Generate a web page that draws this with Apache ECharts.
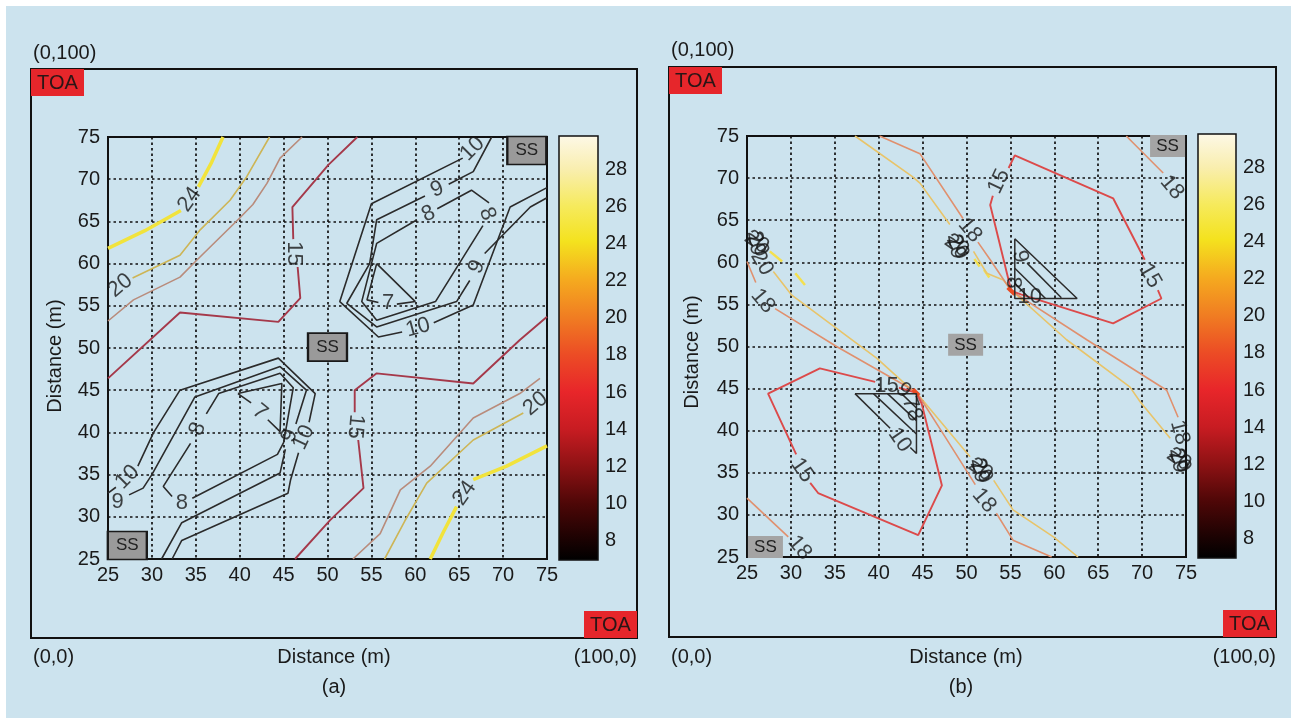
<!DOCTYPE html>
<html>
<head>
<meta charset="utf-8">
<script src="https://cdn.jsdelivr.net/npm/echarts@6/dist/echarts.min.js"></script>
<style>
html, body { margin: 0; background: #fff; }
#chart { width: 1297px; height: 719px; }
</style>
</head>
<body>
<div id="chart"></div>
<script>
var FONT = '"Liberation Sans", Arial, Helvetica, sans-serif';

// axes
var axisMin = 25;
var axisMax = 75;
var cbMin = 6.95;
var cbMax = 29.8;
var cbTicks = [8, 10, 12, 14, 16, 18, 20, 22, 24, 26, 28];

// ---- panel (a): contour segments [x, y] in metres, labels [x, y, text, angle]
var a7 = [
    [[55.6, 60.0], [60.0, 55.5], [57.9, 55.2]],
    [[55.8, 55.4], [54.5, 55.7], [55.6, 60.0]],
    [[39.8, 44.6], [41.3, 43.5]],
    [[43.2, 41.5], [44.6, 40.1], [44.8, 45.8], [39.8, 44.6]]
];
var a8 = [
    [[62.5, 66.5], [66.4, 68.7], [68.4, 67.2]],
    [[67.7, 64.5], [62.3, 55.5], [55.6, 53.3], [53.9, 55.5], [55.6, 62.4], [60.2, 65.2]],
    [[36.2, 42.2], [37.6, 44.6], [44.6, 47.0], [46.1, 45.3], [45.0, 38.8], [44.3, 37.4], [34.6, 32.2]],
    [[32.3, 32.4], [31.3, 33.6], [34.4, 38.7]]
];
var a9 = [
    [[68.7, 75], [66.6, 70.9], [63.8, 69.4]],
    [[61.1, 68.0], [55.6, 65.2], [54.8, 60.0], [52.2, 55.3], [55.6, 52.5], [64.7, 55.5], [66.2, 58.0]],
    [[67.9, 61.2], [73.1, 66.7], [75, 67.8]],
    [[27.4, 32.6], [29.0, 33.4], [30.0, 35.0], [34.9, 44.2], [44.6, 47.8], [47.6, 45.0], [46.4, 41.0]],
    [[45.2, 38.0], [44.6, 35.2], [33.4, 29.3], [31.1, 25]]
];
var a10 = [
    [[65.4, 72.5], [55.0, 67.1], [51.4, 55.5], [55.8, 51.3], [58.5, 51.9]],
    [[62.1, 53.0], [66.6, 55.1], [70.8, 66.7], [75, 69.0]],
    [[25, 32.8], [25.9, 33.5]],
    [[28.4, 36.0], [30.2, 40.0], [33.2, 45.0], [44.4, 48.8], [48.6, 44.6], [47.9, 41.2]],
    [[46.7, 37.6], [45.8, 34.4], [45.5, 32.8], [33.4, 27.2], [32.3, 25]]
];
var a15 = [
    [[25, 46.4], [33.2, 54.2], [44.4, 53.1], [46.9, 55.9], [46.6, 59.6]],
    [[46.1, 62.9], [46.0, 66.7], [50.1, 71.7], [53.4, 75]],
    [[75, 53.7], [71.9, 50.95], [66.6, 45.8], [55.6, 47.0], [53.1, 45.0], [53.1, 42.4]],
    [[53.5, 39.1], [54.1, 33.4], [50.3, 29.6], [46.3, 25]]
];
var a18 = [
    [[25, 53.2], [27.9, 55.7], [33.2, 58.4], [35.1, 60.4], [40.0, 65.4], [41.5, 67.0], [43.1, 69.5], [44.6, 72.5], [47.1, 75]],
    [[52.9, 25], [56.0, 28.0], [58.3, 33.2], [61.7, 36.0], [66.6, 41.7], [71.9, 44.6], [74.2, 46.4]]
];
var a20 = [
    [[27.8, 58.3], [33.2, 61.0], [35.5, 64.0], [38.9, 67.5], [40.8, 70.3], [43.4, 75]],
    [[56.5, 25], [58.8, 29.5], [61.3, 34.0], [66.6, 39.1], [72.3, 42.3]]
];
var a24 = [
    [[25, 61.8], [29.2, 63.9], [33.3, 66.3]],
    [[35.3, 69.1], [36.8, 72.0], [38.1, 75]],
    [[61.7, 25], [63.2, 28.2], [64.7, 31.2]],
    [[66.6, 34.4], [70.4, 36.0], [75, 38.4]]
];
var aLabels = [
    [56.9, 55.3, '7', 0], [42.3, 42.4, '7', -40],
    [61.5, 65.9, '8', 25], [68.2, 65.9, '8', -70], [35.2, 40.4, '8', 70], [33.4, 31.7, '8', 0],
    [62.5, 68.8, '9', 22], [67.0, 59.6, '9', 65], [26.1, 31.8, '9', 0], [45.7, 39.6, '9', 70],
    [66.5, 73.6, '10', 45], [60.3, 52.4, '10', 15], [27.2, 34.7, '10', 45], [47.3, 39.4, '10', 65],
    [46.2, 61.2, '15', -90], [53.2, 40.7, '15', -95],
    [26.4, 57.4, '20', 40], [73.7, 43.4, '20', 40],
    [34.3, 67.6, '24', 55], [65.6, 32.8, '24', 55]
];
var aSources = [[27.2, 26.6], [50.0, 50.1], [72.7, 73.4]];

// ---- panel (b)
var b7 = [
    [[42.6, 44.4], [44.3, 42.7]],
    [[55.5, 57.5], [57.2, 55.7]]
];
var b8 = [
    [[41.0, 44.4], [44.3, 41.2]],
    [[55.5, 59.3], [59.0, 55.7]]
];
var b9 = [
    [[39.4, 44.4], [44.3, 39.6]],
    [[56.9, 59.9], [60.8, 55.8]]
];
var b10 = [
    [[37.3, 44.4], [44.3, 44.4], [44.3, 37.3], [43.6, 38.0]],
    [[41.3, 40.3], [37.3, 44.4]],
    [[55.5, 62.8], [55.5, 55.7], [62.6, 55.7], [55.5, 62.8]]
];
var b15 = [
    [[44.3, 44.5], [42.3, 45.1]],
    [[39.6, 45.8], [33.3, 47.4], [27.4, 44.4], [30.6, 37.2]],
    [[32.2, 33.8], [33.1, 32.6], [44.5, 27.6], [47.2, 33.5], [44.9, 43.2], [44.3, 44.5]],
    [[55.1, 56.6], [52.7, 66.8], [53.0, 67.9]],
    [[54.8, 71.2], [55.5, 72.7], [66.7, 67.6], [70.3, 60.3]],
    [[71.8, 56.7], [72.2, 55.7], [66.7, 52.75], [56.2, 56.2], [55.1, 56.6]]
];
var b16 = [
    [[43.9, 44.9], [44.6, 44.2]],
    [[54.7, 57.0], [55.5, 56.2]]
];
var b18 = [
    [[40.1, 75], [44.7, 72.9], [49.6, 65.2]],
    [[51.3, 62.4], [52.7, 60.3], [55.1, 56.6], [63.7, 50.8], [72.8, 44.8], [74.1, 41.6]],
    [[25, 60.1], [26.0, 57.6]],
    [[28.2, 54.5], [35.2, 50.0], [44.3, 44.6], [47.6, 39.2], [51.0, 33.6]],
    [[53.4, 30.2], [55.3, 27.0], [59.7, 25]],
    [[25, 32.0], [29.7, 27.4]],
    [[68.2, 75], [72.4, 70.6]]
];
var b20 = [
    [[37.3, 75], [43.8, 70.2], [44.7, 69.4], [48.1, 64.5]],
    [[50.8, 61.3], [52.3, 58.7], [54.2, 57.9], [55.1, 56.7], [61.4, 50.8], [68.6, 45.2], [69.8, 43.4], [73.2, 39.1]],
    [[28.0, 58.9], [30.1, 56.1], [39.8, 48.6], [43.6, 45.0], [44.3, 44.5], [50.4, 36.9]],
    [[53.1, 34.1], [55.3, 30.6], [59.9, 27.4], [62.7, 25]]
];
var b22 = [
    [[27.6, 61.3], [29.0, 60.1]],
    [[30.5, 58.7], [31.6, 57.3]],
    [[50.9, 60.4], [51.5, 59.5]],
    [[52.0, 59.1], [52.6, 58.2]]
];
var bLabels = [
    [42.8, 44.8, '9', -45], [43.8, 42.6, '78', -70], [42.4, 38.9, '10', -55],
    [56.1, 60.7, '9', -80], [55.3, 57.6, '8', -90], [57.2, 55.9, '10', 0],
    [40.9, 45.3, '15', 0], [31.3, 35.3, '15', -55], [53.7, 69.6, '15', 65], [70.9, 58.4, '15', -60],
    [50.4, 63.8, '18', -50], [26.8, 55.4, '18', -50], [52.0, 31.7, '18', -50],
    [31.0, 26.1, '18', -50], [73.4, 68.9, '18', -50], [74.3, 39.8, '18', -75],
    [26.7, 59.9, '20', -60],
    [26.1, 62.4, '20', -35], [26.2, 62.1, '20', -60], [26.0, 62.3, '20', -80],
    [48.9, 62.0, '20', -35], [49.0, 61.8, '20', -60], [48.8, 61.9, '20', -80],
    [51.6, 35.4, '20', -35], [51.7, 35.2, '20', -60], [51.5, 35.3, '20', -80],
    [74.2, 36.6, '20', -35], [74.3, 36.4, '20', -60], [74.1, 36.5, '20', -80]
];
var bSources = [[27.1, 26.2], [49.9, 50.2], [72.9, 73.8]];

// hot colour map of the colour bars, top (29.8) to bottom (6.95)
var hotStops = [
    [0, '#fdf8e6'], [0.079, '#f9eeae'], [0.166, '#f6ea5c'], [0.249, '#f4e21e'],
    [0.341, '#f5a91f'], [0.429, '#f07c22'], [0.516, '#ec4c25'], [0.603, '#e8262a'],
    [0.691, '#c81c22'], [0.778, '#8e1214'], [0.866, '#4e0707'], [0.953, '#1a0202'], [1, '#000000']
];

function mainX(gi) {
    return {
        type: 'value', gridIndex: gi, min: axisMin, max: axisMax, interval: 5,
        axisLine: { show: true, lineStyle: { color: '#111', width: 2 } },
        axisTick: { show: false },
        axisLabel: { color: '#1a1a1a', fontSize: 20, fontFamily: FONT, margin: 6 },
        splitLine: { show: true, lineStyle: { color: '#111', width: 1.7, type: [2.5, 3] } }
    };
}

function mainY(gi) {
    var ax = mainX(gi);
    ax.axisLabel.margin = 8;
    return ax;
}

function cbX(gi) {
    return { type: 'category', gridIndex: gi, data: ['c'], show: false };
}

function cbY(gi, pos, labels) {
    return {
        type: 'value', gridIndex: gi, position: pos, min: cbMin, max: cbMax,
        axisLine: { show: false },
        axisTick: { show: true, inside: true, length: 5, customValues: cbTicks, lineStyle: { color: '#111', width: 1.5 } },
        axisLabel: { show: labels, customValues: cbTicks, color: '#1a1a1a', fontSize: 20, fontFamily: FONT, margin: 7 },
        splitLine: { show: false }
    };
}

function lines(xi, yi, segs, color, width) {
    return segs.map(function (seg) {
        return {
            type: 'line', xAxisIndex: xi, yAxisIndex: yi, data: seg, symbol: 'none',
            silent: true, z: 3, lineStyle: { color: color, width: width }
        };
    });
}

function labels(xi, yi, list) {
    return {
        type: 'scatter', xAxisIndex: xi, yAxisIndex: yi, symbolSize: 1, silent: true, z: 5,
        itemStyle: { color: 'rgba(0,0,0,0)' },
        data: list.map(function (l) {
            return {
                value: [l[0], l[1]],
                label: {
                    show: true, position: 'inside', formatter: l[2], rotate: l[3],
                    color: '#161616', fontSize: 22, fontFamily: FONT
                }
            };
        })
    };
}

function sources(xi, yi, list, size, border) {
    return {
        type: 'scatter', xAxisIndex: xi, yAxisIndex: yi, symbol: 'rect', symbolSize: size,
        silent: true, z: 4, data: list,
        itemStyle: { color: border ? '#9a9a9a' : '#a4a4a4', borderColor: '#1a1a1a', borderWidth: border ? 2 : 0, opacity: 1 },
        label: { show: true, position: 'inside', formatter: 'SS', color: '#222', fontSize: 17, fontFamily: FONT }
    };
}

function colorBar(xi, yi) {
    return {
        type: 'bar', xAxisIndex: xi, yAxisIndex: yi, data: [cbMax], barWidth: '100%', silent: true,
        itemStyle: {
            color: new echarts.graphic.LinearGradient(0, 0, 0, 1, hotStops.map(function (s) {
                return { offset: s[0], color: s[1] };
            }))
        }
    };
}

function text(x, y, str, align, rot) {
    return {
        type: 'text', x: x, y: y, rotation: rot || 0, z: 20, silent: true,
        style: { text: str, fill: '#1a1a1a', font: '20px ' + FONT, align: align || 'left', verticalAlign: 'middle' }
    };
}

function toa(x, y) {
    return [
        { type: 'rect', shape: { x: x, y: y, width: 53, height: 27 }, style: { fill: '#e6262b' }, z: 11, silent: true },
        { type: 'text', x: x + 26.5, y: y + 14, z: 12, silent: true,
          style: { text: 'TOA', fill: '#2a1616', font: '20px ' + FONT, align: 'center', verticalAlign: 'middle' } }
    ];
}

function frame(x, y, w, h, lw) {
    return { type: 'rect', shape: { x: x, y: y, width: w, height: h }, z: 10, silent: true,
             style: { fill: null, stroke: '#111', lineWidth: lw } };
}

var series = []
    .concat(lines(0, 0, a24, '#f1e33c', 3.5))
    .concat(lines(0, 0, a20, '#cdb556', 1.6))
    .concat(lines(0, 0, a18, '#b98c7c', 1.6))
    .concat(lines(0, 0, a15, '#a5394a', 1.9))
    .concat(lines(0, 0, a10, '#2b2b2b', 1.6))
    .concat(lines(0, 0, a9, '#2b2b2b', 1.6))
    .concat(lines(0, 0, a8, '#2b2b2b', 1.6))
    .concat(lines(0, 0, a7, '#2b2b2b', 1.6))
    .concat([labels(0, 0, aLabels), sources(0, 0, aSources, [39, 28], true), colorBar(1, 1)])
    .concat(lines(2, 3, b22, '#f4e04e', 2.5))
    .concat(lines(2, 3, b20, '#e8c46a', 1.6))
    .concat(lines(2, 3, b18, '#e0906e', 1.6))
    .concat(lines(2, 3, b15, '#dc4a4a', 1.9))
    .concat(lines(2, 3, b16, '#ea4a22', 4))
    .concat(lines(2, 3, b10, '#2b2b2b', 1.5))
    .concat(lines(2, 3, b9, '#2b2b2b', 1.5))
    .concat(lines(2, 3, b8, '#2b2b2b', 1.5))
    .concat(lines(2, 3, b7, '#2b2b2b', 1.5))
    .concat([labels(2, 3, bLabels), sources(2, 3, bSources, [35, 22], false), colorBar(3, 4)]);

var graphics = [
    { type: 'rect', shape: { x: 6, y: 6, width: 1285, height: 712 }, style: { fill: '#cce3ee' }, z: -100, silent: true },
    frame(31, 69, 606, 569, 2),
    frame(669, 67, 607, 570, 2),
    frame(559, 136, 39, 424, 1.5),
    frame(1198, 134, 38, 424, 1.5),
    text(33, 53, '(0,100)'), text(671, 50, '(0,100)'),
    text(33, 657, '(0,0)'), text(671, 657, '(0,0)'),
    text(637, 657, '(100,0)', 'right'), text(1276, 657, '(100,0)', 'right'),
    text(334, 657, 'Distance (m)', 'center'), text(966, 657, 'Distance (m)', 'center'),
    text(334, 687, '(a)', 'center'), text(961, 687, '(b)', 'center'),
    text(55, 356, 'Distance (m)', 'center', Math.PI / 2),
    text(692, 352, 'Distance (m)', 'center', Math.PI / 2)
].concat(toa(31, 69), toa(584, 611), toa(669, 67), toa(1223, 610));

var chart = echarts.init(document.getElementById('chart'));
chart.setOption({
    animation: false,
    backgroundColor: '#ffffff',
    textStyle: { fontFamily: FONT },
    grid: [
        { left: 108, top: 137, width: 439, height: 422, show: true, borderColor: '#111', borderWidth: 2 },
        { left: 559, top: 136, width: 39, height: 424 },
        { left: 747, top: 136, width: 439, height: 421, show: true, borderColor: '#111', borderWidth: 2 },
        { left: 1198, top: 134, width: 38, height: 424 }
    ],
    xAxis: [mainX(0), cbX(1), mainX(2), cbX(3)],
    yAxis: [mainY(0), cbY(1, 'left', false), cbY(1, 'right', true), mainY(2), cbY(3, 'left', false), cbY(3, 'right', true)],
    series: series,
    graphic: graphics
});
</script>
</body>
</html>
